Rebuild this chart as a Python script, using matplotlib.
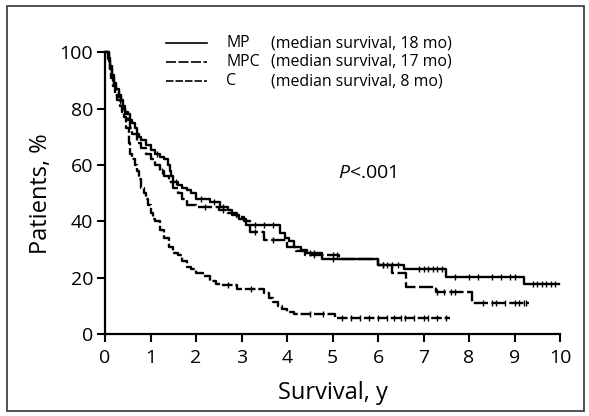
import numpy as np
import matplotlib
matplotlib.use("Agg")
import matplotlib.pyplot as plt
from matplotlib.lines import Line2D
from matplotlib.patches import Rectangle

plt.rcParams['font.family'] = ['Open Sans', 'DejaVu Sans']
plt.rcParams['mathtext.fontset'] = 'custom'
plt.rcParams['mathtext.it'] = 'Open Sans:italic'
plt.rcParams['mathtext.rm'] = 'Open Sans'

# ---- data (Kaplan-Meier step points: time in years, survival in %) ----
mp_t = [0, 0.08, 0.12, 0.16, 0.2, 0.25, 0.3, 0.35, 0.4, 0.45, 0.5, 0.55, 0.6, 0.65, 0.7, 0.75,
        0.8, 0.9, 1.0, 1.1, 1.2, 1.3, 1.38, 1.42, 1.46, 1.5, 1.6, 1.7, 1.8, 1.9, 2.0, 2.3,
        2.52, 2.7, 2.8, 2.95, 3.1, 3.84, 3.95, 4.05, 4.15, 4.3, 4.43, 4.78, 6.0, 6.58, 7.5, 9.2]
mp_s = [100, 98, 95, 92, 89, 87, 85, 83, 81, 79, 78, 76, 75, 73, 71, 70,
        69, 67, 65.5, 64, 63, 62, 60, 58, 56, 54, 53, 52, 51, 50, 48, 47,
        45.3, 44, 42.3, 41, 38.8, 36, 34, 33, 31, 30, 28.8, 26.6, 24.6, 23, 20.4, 17.8]
mp_end = 9.98

mpc_t = [0, 0.08, 0.12, 0.16, 0.2, 0.25, 0.3, 0.35, 0.4, 0.45, 0.5, 0.55, 0.6, 0.7, 0.8, 0.9,
         1.0, 1.1, 1.2, 1.3, 1.4, 1.5, 1.6, 1.7, 1.8, 2.0, 2.5, 2.7, 2.9, 3.05, 3.18, 3.5,
         4.0, 4.2, 4.4, 5.15, 6.0, 6.3, 6.62, 7.27, 8.07]
mpc_s = [100, 97, 94, 91, 88, 86, 84, 82, 80, 78, 76, 73, 71, 68, 66, 64,
         62, 60, 58, 56, 54, 52, 50, 48, 46, 45, 44, 43, 41.5, 40, 36.4, 33.4,
         31, 29.5, 28, 26.6, 24.6, 21.7, 16.8, 15.1, 11.2]
mpc_end = 9.32

c_t = [0, 0.06, 0.1, 0.14, 0.18, 0.22, 0.27, 0.32, 0.37, 0.42, 0.47, 0.52, 0.56, 0.6, 0.65,
       0.7, 0.75, 0.8, 0.85, 0.9, 0.95, 1.0, 1.05, 1.1, 1.2, 1.3, 1.4, 1.5, 1.6, 1.7, 1.8,
       1.9, 2.0, 2.15, 2.3, 2.45, 2.55, 2.9, 3.5, 3.6, 3.7, 3.8, 3.9, 4.0, 4.15, 5.05]
c_s = [100, 97, 94, 91, 88, 85, 83, 81, 79, 77, 73, 68, 64, 62, 60,
       58, 55, 52, 50, 48, 46, 43, 41, 40, 37, 34, 31, 29, 28, 26, 24,
       23, 21.7, 20.5, 19, 18, 17.5, 16, 14.5, 13, 11.5, 10, 9, 8, 7.3, 5.8]
c_end = 7.58

mp_cens = [1.15, 1.55, 2.1, 2.4, 2.6, 3.3, 3.5, 3.7, 4.5, 4.6, 5.0, 6.1, 6.2, 6.3, 6.45, 6.9,
           7.0, 7.1, 7.2, 7.3, 7.4, 7.7, 8.0, 8.2, 8.5, 8.7, 8.9, 9.0, 9.4, 9.5, 9.6, 9.7,
           9.8, 9.9]
mpc_cens = [1.25, 2.2, 2.6, 3.3, 3.7, 4.6, 5.0, 5.1, 6.1, 7.3, 7.45, 7.6, 7.7, 8.3, 8.5,
            8.6, 8.8, 9.0, 9.1, 9.2, 9.25]
c_cens = [2.7, 3.2, 4.5, 4.8, 5.2, 5.4, 5.6, 5.8, 6.0, 6.2, 6.35, 6.5, 6.6, 6.8, 7.0, 7.1,
          7.3, 7.5]

series = ["MP", "MPC", "C"]
legend_notes = ["(median survival, 18 mo)", "(median survival, 17 mo)", "(median survival, 8 mo)"]
x_ticks = [0, 1, 2, 3, 4, 5, 6, 7, 8, 9, 10]
y_ticks = [0, 20, 40, 60, 80, 100]

# ---- figure ----
fig = plt.figure(figsize=(5.89, 4.16), dpi=100)
ax = fig.add_axes([105/589, 1-334.3/416, (560-105)/589, (334.3-52.3)/416])

styles = [dict(linestyle='-'),
          dict(linestyle=(0, (6.0, 1.5))),
          dict(linestyle=(0, (4.5, 1.2)))]
data = [(mp_t, mp_s, mp_end, mp_cens), (mpc_t, mpc_s, mpc_end, mpc_cens), (c_t, c_s, c_end, c_cens)]

for (t, s, end, cens), st in zip(data, styles):
    tt = np.array(t + [end])
    ss = np.array(s + [s[-1]])
    ax.step(tt, ss, where='post', color='black', lw=1.7, clip_on=False, **st)
    ct = np.array(cens)
    idx = np.searchsorted(np.array(t), ct, side='right') - 1
    cy = np.array(s)[idx]
    ax.plot(ct, cy, linestyle='none', marker='|', ms=4, mew=1.0, color='black', clip_on=False)

ax.set_xlim(0, 10)
ax.set_ylim(0, 100)
ax.set_xticks(x_ticks)
ax.set_yticks(y_ticks)
for sp in ['top', 'right']:
    ax.spines[sp].set_visible(False)
for sp in ['left', 'bottom']:
    ax.spines[sp].set_linewidth(1.6)
ax.tick_params(direction='out', length=5.5, width=1.5, labelsize=14, colors='black')
ax.tick_params(axis='x', pad=5)
ax.tick_params(axis='y', pad=3)
ax.set_xlabel("Survival, y", fontsize=17, labelpad=10)
ax.set_ylabel("Patients, %", fontsize=17, labelpad=5)

ax.text(5.13, 57.2, r"$P$<.001", fontsize=14, ha='left', va='center')

# legend drawn manually
rows_y = [43, 62, 81]
for i, (name, note, st) in enumerate(zip(series, legend_notes, styles)):
    yf = 1 - rows_y[i]/416
    fig.add_artist(Line2D([166/589, 207/589], [yf, yf], color='black', lw=1.2,
                          transform=fig.transFigure, **st))
    fig.text(226/589, yf, name, fontsize=11.4, ha='left', va='center')
    fig.text(271/589, yf, note, fontsize=11.4, ha='left', va='center')

fig.add_artist(Rectangle((7/589, 5/416), (584-7)/589, (410-5)/416, transform=fig.transFigure,
                         fill=False, edgecolor='#333333', lw=1.2))

fig.savefig("out.png", dpi=100)
